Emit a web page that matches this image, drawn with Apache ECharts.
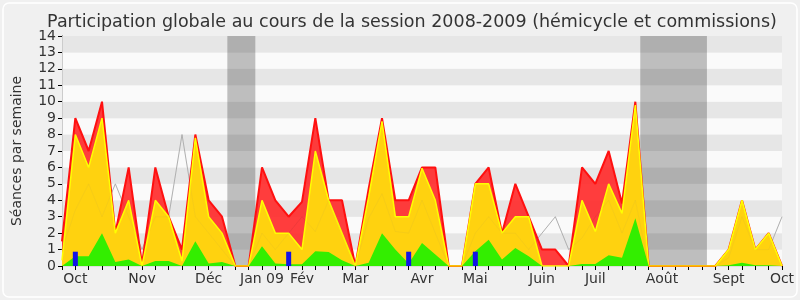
<!DOCTYPE html>
<html><head><meta charset="utf-8">
<script src="https://cdn.jsdelivr.net/npm/echarts@6/dist/echarts.min.js"></script>
<style>html,body{margin:0;padding:0;background:#f0f0f0}#c{width:800px;height:300px}</style>
</head><body><div id="c"></div>
<script>
// week index 0..54
const monthLabels = {1:'Oct',6:'Nov',11:'Déc',15:'Jan 09',18:'Fév',22:'Mar',27:'Avr',31:'Mai',36:'Juin',40:'Juil',45:'Août',50:'Sept',54:'Oct'};
const totalSeances = [1.5,9,7,10,2,6,0.1,6,3,1,8,4,3,0,0,6,4,3,3.9,9,4,4,0,4.7,9,4,4,6,6,0,0,5,6,2,5,3,1,1,0,6,5,7,3.8,10,0,0,0,0,0,0,1,4,1,2,0];
const commissionSeances = [0.35,8,6,9,2,4,0,4,3,0.3,7.8,3,2,0,0,4,2,2,1,7,4,2,0,4.2,8.8,3,3,5.95,4,0,0,5,5,2,3,3,0,0,0,4,2.1,5,3.2,9.8,0,0,0,0,0,0,1,4,1,2,0];
const hemicycleSeances = [0,0.6,0.6,2,0.25,0.4,0,0.3,0.3,0,1.5,0.15,0.25,0,0,1.2,0.15,0.1,0.1,0.9,0.85,0.35,0,0.2,2,1,0.15,1.4,0.7,0,0,0.9,1.6,0.4,1.1,0.6,0,0,0,0.12,0.12,0.65,0.5,2.9,0,0,0,0,0,0,0.05,0.2,0.05,0.05,0];
const medianeDeputes = [1,3.4,5,3,5,3,1,3,3,8,3,2,1,0,0,2,1,2,3,2.1,4,2,0,2.9,4.4,2.1,2,4,2,0,0,2,3,2,2,1,2,3,1,1.7,3,4,2,4,0,0,0,0,0,0,0.5,3,1,1,3];
const presenceMarks = [[1,0.87],[17,0.87],[26,0.87],[31,0.87]];
const vacances = [[12.4,14.5],[43.37,48.37]];

const idx = a => a.map((v,i)=>[i,v]);
const chart = echarts.init(document.getElementById('c'));
const axisFont = {fontFamily:'DejaVu Sans', fontSize:14, color:'#333'};
chart.setOption({
  backgroundColor:'#f0f0f0',
  animation:false,
  title:{text:'Participation globale au cours de la session 2008-2009 (hémicycle et commissions)',left:407,textAlign:'center',top:8,
    textStyle:{fontFamily:'DejaVu Sans',fontSize:17.5,fontWeight:'normal',color:'#333'}},
  grid:{left:62,right:18,top:36,bottom:34},
  xAxis:[
    {type:'value',min:0,max:54,interval:1,
     axisLine:{lineStyle:{color:'#000'}},axisTick:{length:4,lineStyle:{color:'#000'}},
     axisLabel:Object.assign({margin:6,formatter:v=>monthLabels[v]||'',showMinLabel:true,showMaxLabel:true},axisFont),
     splitLine:{show:false}},
    {type:'value',min:0,max:54,interval:1,position:'top',
     axisLine:{show:true,lineStyle:{color:'#ddd'}},axisTick:{inside:true,length:2,lineStyle:{color:'#000'}},
     axisLabel:{show:false},splitLine:{show:false}}
  ],
  yAxis:[
    {type:'value',min:0,max:14,interval:1,name:'Séances par semaine',nameLocation:'middle',nameGap:38,
     nameTextStyle:{fontFamily:'DejaVu Sans',fontSize:14,color:'#333'},
     axisLine:{show:true,lineStyle:{color:'#000'}},axisTick:{show:true,length:4,lineStyle:{color:'#000'}},
     axisLabel:Object.assign({margin:6},axisFont),
     splitLine:{show:false},
     splitArea:{show:true,areaStyle:{color:['#fafafa','#e6e6e6']}}},
    {type:'value',min:0,max:14,interval:1,position:'right',
     axisLine:{show:true,lineStyle:{color:'#ccc'}},axisTick:{show:false},axisLabel:{show:false},splitLine:{show:false}}
  ],
  series:[
    {type:'line',data:[],z:1,silent:true,
     markArea:{silent:true,itemStyle:{color:'rgba(0,0,0,0.24)'},data:vacances.map(v=>[{xAxis:v[0]},{xAxis:v[1]}])}},
    {name:'médiane',type:'line',data:idx(medianeDeputes),z:2,symbol:'none',
     lineStyle:{color:'#b4b4b4',width:1}},
    {name:'total',type:'line',data:idx(totalSeances),z:3,symbol:'none',
     lineStyle:{color:'#ff1010',width:2},areaStyle:{color:'rgba(255,40,40,0.9)',opacity:1}},
    {name:'commissions',type:'line',data:idx(commissionSeances),z:4,symbol:'none',
     lineStyle:{color:'#ffff00',width:1.5},areaStyle:{color:'#ffd20f',opacity:1}},
    {name:'hémicycle',type:'line',data:idx(hemicycleSeances),z:5,symbol:'none',
     lineStyle:{width:0},areaStyle:{color:'#33ee00',opacity:1}},
    {name:'médiane (trace)',type:'line',data:idx(medianeDeputes),z:6,symbol:'none',silent:true,
     lineStyle:{color:'#808080',width:1,opacity:0.07}},
    {name:'présence',type:'bar',data:presenceMarks,z:7,barWidth:5,itemStyle:{color:'#1414e6'}}
  ],
  graphic:[{type:'rect',shape:{x:3,y:3,width:794,height:294,r:6},style:{fill:'none',stroke:'#fff',lineWidth:1.5},z:0}]
});
</script></body></html>
